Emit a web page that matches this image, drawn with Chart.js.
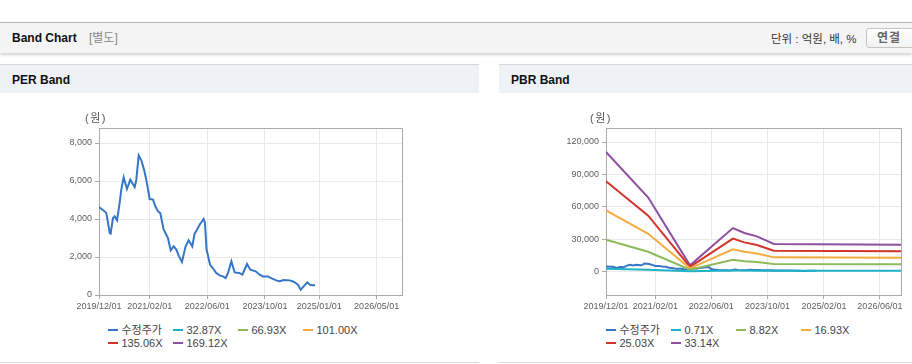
<!DOCTYPE html>
<html><head><meta charset="utf-8">
<script src="https://cdn.jsdelivr.net/npm/chart.js@4"></script>
<style>
body{margin:0;width:912px;height:364px;overflow:hidden;background:#fff;font-family:"Liberation Sans","Noto Sans CJK KR",sans-serif;position:relative}
.abs{position:absolute;white-space:nowrap}
#topbar{left:0;top:22px;width:912px;height:30px;background:#f4f4f4;border-top:1px solid #b4b4b4;box-shadow:0 2px 3px rgba(0,0,0,0.18)}
.ttl{font-weight:bold;font-size:12px;line-height:14px;color:#111}
.panel{top:64px;height:297px;border-top:1px solid #d6d6d6;border-bottom:1px solid #d8d8d8;background:#fff}
.phead{position:absolute;left:0;top:0;right:0;height:28px;background:#eef2f7}
.unit{font-size:11px;line-height:14px;color:#555;letter-spacing:1.5px}
.leg{font-size:11px;line-height:14px;height:14px;color:#444}
.leg i{display:inline-block;width:10px;height:2px;vertical-align:middle;margin-right:3.5px;position:relative;top:-1px}
#btn{left:866px;top:28px;width:60px;height:18px;border:1px solid #c4c4c4;border-radius:3px;background:linear-gradient(#fff,#f2f2f2)}
</style></head>
<body>
<div id="topbar" class="abs"></div>
<div class="abs ttl" style="left:12px;top:31px">Band Chart</div>
<div class="abs" style="left:89px;top:31px;font-size:12px;line-height:14px;color:#8a8a8a">[별도]</div>
<div class="abs" style="left:771px;top:32px;font-size:11.5px;line-height:14px;color:#333">단위 : 억원, 배, %</div>
<div id="btn" class="abs"></div>
<div class="abs" style="left:877px;top:31px;font-size:12px;line-height:14px;font-weight:bold;color:#666;letter-spacing:1px">연결</div>

<div class="abs panel" style="left:0;width:479px"><div class="phead"></div></div>
<div class="abs panel" style="left:499px;width:413px"><div class="phead"></div></div>
<div class="abs ttl" style="left:12px;top:73px">PER Band</div>
<div class="abs ttl" style="left:511px;top:73px">PBR Band</div>

<canvas id="per" class="abs" width="479" height="230" style="left:0;top:93px"></canvas>
<canvas id="pbr" class="abs" width="413" height="230" style="left:499px;top:93px"></canvas>
<div class="abs unit" style="left:85px;top:111px">(원)</div>
<div class="abs unit" style="left:590px;top:111px">(원)</div>
<div id="legL"></div>
<div id="legR"></div>

<script>
// ---- data ----
const priceDates = ['2019-12-01','2020-01-18','2020-02-01','2020-03-01','2020-03-08','2020-03-28','2020-04-11','2020-05-01','2020-05-23','2020-06-06','2020-06-26','2020-07-24','2020-08-21','2020-09-07','2020-09-27','2020-10-11','2020-10-31','2020-11-22','2020-12-15','2021-01-03','2021-02-01','2021-03-01','2021-03-20','2021-04-12','2021-05-01','2021-05-30','2021-07-05','2021-07-28','2021-08-22','2021-09-14','2021-10-06','2021-10-31','2021-12-01','2021-12-26','2022-01-26','2022-02-15','2022-03-07','2022-03-29','2022-05-02','2022-05-13','2022-05-27','2022-06-25','2022-07-18','2022-08-17','2022-09-14','2022-10-12','2022-11-04','2022-11-24','2022-12-22','2023-01-19','2023-02-25','2023-03-25','2023-05-03','2023-05-31','2023-07-15','2023-08-18','2023-09-15','2023-10-27','2023-12-02','2024-01-10','2024-02-03','2024-03-08','2024-04-27','2024-05-31','2024-07-06','2024-07-29','2024-08-23','2024-09-23','2024-10-13','2024-11-04','2024-11-27'];
const priceValues = [4630,4400,4310,3260,3230,4050,4140,3930,4840,5540,6190,5580,6070,5890,5680,6070,7350,7090,6600,6070,5050,5020,4670,4400,4310,3440,3000,2350,2560,2390,2030,1740,2560,2880,2560,3230,3440,3700,4000,3790,2390,1600,1420,1160,1035,980,895,1160,1770,1190,1160,1070,1630,1330,1245,1070,980,980,860,755,720,790,770,700,545,280,456,667,545,510,510];

const perNames = ['수정주가','32.87X','66.93X','101.00X','135.06X','169.12X'];
const pbrNames = ['수정주가','0.71X','8.82X','16.93X','25.03X','33.14X'];
const seriesColors = ['#3576c8','#1fb2c6','#8cba5a','#f5ab3f','#d3342a','#8e4f9f'];

const bandDates = ['2019-12-01','2020-12-01','2021-11-28','2022-12-05','2023-03-15','2023-07-01','2023-11-25','2026-12-01'];
const pbr071 = [2370,1470,120,860,760,700,545,530];
const pbr882 = [29400,18200,1500,10700,9500,8650,6750,6570];
const pbr1693 = [56500,34900,2850,20500,18200,16600,13000,12600];
const pbr2503 = [83600,51700,4250,30400,26900,24500,19200,18650];
const pbr3314 = [110700,68500,5600,40200,35600,32500,25400,24700];

const perXTicks = ['2019-12-01','2021-02-01','2022-06-01','2023-10-01','2025-01-01','2026-05-01'];
const pbrXTicks = ['2019-12-01','2021-02-01','2022-06-01','2023-10-01','2025-02-01','2026-06-01'];
const perYTicks = [0,2000,4000,6000,8000];
const pbrYTicks = [0,30000,60000,90000,120000];
const xRange = ['2019-12-01','2026-12-01'];

// ---- helpers ----
const T = d => Date.parse(d + 'T00:00:00Z');
const pts = (ds, vs) => ds.map((d,i)=>({x:T(d), y:vs[i]}));
const fmtDate = v => { const d=new Date(v); const p=n=>String(n).padStart(2,'0');
  return d.getUTCFullYear()+'/'+p(d.getUTCMonth()+1)+'/'+p(d.getUTCDate()); };

Chart.defaults.font.family = '"Liberation Sans", Arial, sans-serif';
Chart.defaults.font.size = 9;
Chart.defaults.color = '#5e5e5e';

const frame = {id:'frame', beforeDatasetsDraw(c){
  const a=c.chartArea, x=c.ctx; x.save(); x.strokeStyle='#aaa'; x.lineWidth=1;
  x.beginPath(); x.moveTo(Math.round(a.left), Math.round(a.top)+0.5); x.lineTo(Math.round(a.right)+0.5, Math.round(a.top)+0.5);
  x.lineTo(Math.round(a.right)+0.5, Math.round(a.bottom)); x.stroke(); x.restore(); }};

function makeChart(id, datasets, xTicks, yTicks, yMin, yMax, yWidth, padRight){
  return new Chart(document.getElementById(id), {
    type:'line',
    data:{datasets},
    options:{
      responsive:false, animation:false, events:[],
      layout:{padding:{left:0,right:padRight,top:35,bottom:0}},
      plugins:{legend:{display:false},tooltip:{enabled:false}},
      elements:{point:{radius:0},line:{borderWidth:2,tension:0}},
      scales:{
        x:{type:'linear',min:T(xRange[0]),max:T(xRange[1]),
          afterBuildTicks:s=>{s.ticks=xTicks.map(d=>({value:T(d)}));},
          afterFit:s=>{s.height=28;},
          ticks:{autoSkip:false,maxRotation:0,padding:2,callback:v=>fmtDate(v)},
          grid:{color:'#e9e9e9',tickColor:'#aaa',tickLength:4},
          border:{color:'#aaa'}},
        y:{type:'linear',min:yMin,max:yMax,
          afterBuildTicks:s=>{s.ticks=yTicks.map(v=>({value:v}));},
          afterFit:s=>{s.width=yWidth;},
          ticks:{padding:3,callback:v=>v.toLocaleString('en-US')},
          grid:{color:'#e9e9e9',tickColor:'#aaa',tickLength:4},
          border:{color:'#aaa'}}
      }
    },
    plugins:[frame]
  });
}

const perDatasets = perNames.map((n,i)=>({label:n, data: i===0 ? pts(priceDates, priceValues) : [],
  borderColor:seriesColors[i], backgroundColor:seriesColors[i], fill:false}));
const pbrBands = [null, pbr071, pbr882, pbr1693, pbr2503, pbr3314];
const pbrDatasets = pbrNames.map((n,i)=>({label:n, data: i===0 ? pts(priceDates, priceValues) : pts(bandDates, pbrBands[i]),
  borderColor:seriesColors[i], backgroundColor:seriesColors[i], fill:false, order: i===0 ? 10 : 0}));

makeChart('per', perDatasets, perXTicks, perYTicks, 0, 8790, 99, 77);
makeChart('pbr', pbrDatasets, pbrXTicks, pbrYTicks, -21900, 133000, 107, 11);

function legend(elId, names, left){
  const el=document.getElementById(elId);
  names.forEach((n,i)=>{
    const d=document.createElement('div'); d.className='abs leg';
    const col=i%4, row=Math.floor(i/4);
    d.style.left=(left+col*65)+'px'; d.style.top=(row===0?323:336)+'px';
    const m=document.createElement('i'); m.style.background=seriesColors[i];
    d.appendChild(m); d.appendChild(document.createTextNode(n)); el.appendChild(d);
  });
}
legend('legL', perNames, 108);
legend('legR', pbrNames, 606);
</script>
</body></html>
